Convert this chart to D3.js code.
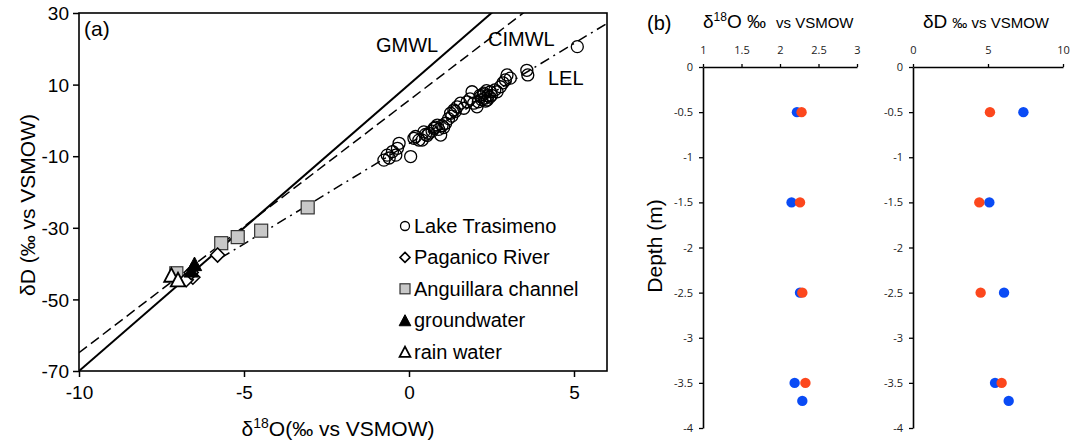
<!DOCTYPE html>
<html>
<head>
<meta charset="utf-8">
<script src="https://cdn.jsdelivr.net/npm/d3@7"></script>
<style>
  body { margin: 0; background: #fff; }
  svg { display: block; }
</style>
</head>
<body>
<script>
// panel (a) data
const lakeO18 = [5.1, 3.57, 3.6, 3.07, 2.97, 2.92, 2.77, 2.67, 2.47, 2.37, 2.27, 2.17, 2.06, 1.96, 1.91, 1.76, 1.66, 1.56, 1.46, 1.36, 1.26, 1.11, 0.96, 0.86, 0.76, 0.6, 0.45, 0.4, 0.3, 0.15, 0.05, -0.3, -0.35, -0.4, -0.5, -0.66, -0.76, 2.3, 2.4, 2.2, 1.0, 0.7, 1.2, 2.5, 2.6, 2.85, 1.4, 0.9, 0.2, -0.6, 2.1, 2.35, 1.85, 0.55, 2.25, 2.45, 2.32, 2.15, 1.05, 0.8, 0.5, 1.3];
const lakeD   = [20.6, 14.0, 12.7, 11.8, 12.7, 11.3, 9.4, 8.0, 8.0, 5.7, 7.6, 6.6, 3.8, 4.8, 8.0, 5.2, 3.4, 4.8, 3.8, 2.9, 2.0, -0.8, -4.1, -1.3, -2.2, -3.6, -3.2, -5.5, -5.5, -5.0, -10.1, -6.4, -7.8, -9.7, -8.7, -9.7, -11.1, 6.2, 6.9, 5.8, -1.5, -3.0, 0.5, 7.0, 8.5, 10.5, 2.5, -2.5, -4.5, -10.5, 5.2, 8.3, 6.0, -4.2, 7.2, 6.5, 5.4, 7.0, -2.0, -1.9, -3.9, 1.2];
const riverO18 = [-5.8, -6.55, -6.75, -6.6];
const riverD   = [-37.6, -43.8, -44.5, -42.5];
const channelO18 = [-3.07, -4.48, -5.19, -5.69, -7.05];
const channelD   = [-24.3, -30.8, -32.6, -34.3, -42.7];
const groundO18 = [-6.5, -6.6];
const groundD   = [-40.4, -42.2];
const rainO18 = [-7.2, -7.0];
const rainD   = [-43.5, -44.8];

const lineNames = ['GMWL', 'CIMWL', 'LEL'];
const lineSlope = [8, 7.05, 5.6];
const lineIntercept = [10, 5.6, -6.5];
const lineStart = [-10, -10, -5.7];

const legendNames = ['Lake Trasimeno', 'Paganico River', 'Anguillara channel', 'groundwater', 'rain water'];
const xTicksA = [-10, -5, 0, 5];
const yTicksA = [30, 10, -10, -30, -50, -70];

// panel (b) data
const depths = [-0.5, -1.5, -2.5, -3.5, -3.7];
const o18Blue = [2.22, 2.15, 2.26, 2.19, 2.29];
const o18Red  = [2.28, 2.26, 2.29, 2.33, null];
const dBlue = [7.36, 5.09, 6.07, 5.47, 6.38];
const dRed  = [5.13, 4.42, 4.51, 5.91, null];
const depthTicks = [0, -0.5, -1, -1.5, -2, -2.5, -3, -3.5, -4];
const o18Ticks = [1, 1.5, 2, 2.5, 3];
const dTicks = [0, 5, 10];

const W = 1070, H = 441;
const svg = d3.select('body').append('svg').attr('width', W).attr('height', H);

// ---------- panel (a) ----------
const fa = 'Liberation Sans, Arial, sans-serif';
const x = d3.scaleLinear().domain([-10, 6]).range([79, 607]);
const y = d3.scaleLinear().domain([-70, 30]).range([371, 13]);

svg.append('clipPath').attr('id', 'clipA')
  .append('rect').attr('x', 79).attr('y', 13).attr('width', 528).attr('height', 358);

const gA = svg.append('g');

const xAxis = gA.append('g').attr('transform', 'translate(0,371)')
  .call(d3.axisBottom(x).tickValues(xTicksA).tickSize(6).tickSizeOuter(0).tickFormat(d => String(d)));
const yAxis = gA.append('g').attr('transform', 'translate(79,0)')
  .call(d3.axisLeft(y).tickValues(yTicksA).tickSize(6).tickSizeOuter(0).tickFormat(d => String(d)));
[xAxis, yAxis].forEach(a => {
  a.select('.domain').remove();
  a.selectAll('line').attr('stroke', '#000').attr('stroke-width', 1.5);
  a.selectAll('text').attr('font-family', fa).attr('font-size', 19).attr('fill', '#000');
});
xAxis.selectAll('text').attr('dy', '1.0em');
yAxis.selectAll('text').attr('x', -10).attr('dy', '0.35em');

gA.append('rect').attr('x', 79).attr('y', 13).attr('width', 528).attr('height', 358)
  .attr('fill', 'none').attr('stroke', '#000').attr('stroke-width', 1.6);

const dashes = [null, '10,5', '10,5,2,5'];
const lineG = gA.append('g').attr('clip-path', 'url(#clipA)');
lineNames.forEach((n, i) => {
  const x0 = lineStart[i], x1 = 6;
  lineG.append('line')
    .attr('x1', x(x0)).attr('y1', y(lineSlope[i] * x0 + lineIntercept[i]))
    .attr('x2', x(x1)).attr('y2', y(lineSlope[i] * x1 + lineIntercept[i]))
    .attr('stroke', '#000').attr('stroke-width', i === 0 ? 2 : 1.5)
    .attr('stroke-dasharray', dashes[i]);
});

const labelPos = [[376, 52], [488, 46], [548, 85]];
lineNames.forEach((n, i) => {
  gA.append('text').attr('x', labelPos[i][0]).attr('y', labelPos[i][1])
    .attr('font-family', fa).attr('font-size', 20).text(n);
});

gA.append('text').attr('x', 84).attr('y', 36).attr('font-family', fa).attr('font-size', 21).text('(a)');

// markers
const sym = {
  circle: (g, cx, cy, s) => g.append('circle').attr('cx', cx).attr('cy', cy).attr('r', s)
    .attr('fill', 'none').attr('stroke', '#000').attr('stroke-width', 1.3),
  diamond: (g, cx, cy, s) => g.append('path')
    .attr('d', `M${cx},${cy - s}L${cx + s},${cy}L${cx},${cy + s}L${cx - s},${cy}Z`)
    .attr('fill', '#fff').attr('stroke', '#000').attr('stroke-width', 1.6),
  square: (g, cx, cy, s) => g.append('rect').attr('x', cx - s).attr('y', cy - s)
    .attr('width', 2 * s).attr('height', 2 * s)
    .attr('fill', '#c8c8c8').attr('stroke', '#333').attr('stroke-width', 1.2),
  triFill: (g, cx, cy, s) => g.append('path')
    .attr('d', `M${cx},${cy - s}L${cx + s * 0.9},${cy + s * 0.7}L${cx - s * 0.9},${cy + s * 0.7}Z`)
    .attr('fill', '#000').attr('stroke', '#000').attr('stroke-width', 1),
  triOpen: (g, cx, cy, s) => g.append('path')
    .attr('d', `M${cx},${cy - s}L${cx + s * 0.9},${cy + s * 0.7}L${cx - s * 0.9},${cy + s * 0.7}Z`)
    .attr('fill', '#fff').attr('stroke', '#000').attr('stroke-width', 1.8)
};

const pts = gA.append('g');
channelO18.forEach((v, i) => sym.square(pts, x(v), y(channelD[i]), 6.5));
riverO18.forEach((v, i) => sym.diamond(pts, x(v), y(riverD[i]), 7));
rainO18.forEach((v, i) => sym.triOpen(pts, x(v), y(rainD[i]), 8));
groundO18.forEach((v, i) => sym.triFill(pts, x(v), y(groundD[i]), 8));
lakeO18.forEach((v, i) => sym.circle(pts, x(v), y(lakeD[i]), 6));

// legend
const legSyms = [
  (g, cx, cy) => sym.circle(g, cx, cy, 4.5),
  (g, cx, cy) => sym.diamond(g, cx, cy, 5),
  (g, cx, cy) => sym.square(g, cx, cy, 5),
  (g, cx, cy) => sym.triFill(g, cx, cy + 1, 6.5),
  (g, cx, cy) => sym.triOpen(g, cx, cy + 1, 6)
];
const leg = gA.append('g');
legendNames.forEach((n, i) => {
  const cy = 226 + i * 31.4;
  legSyms[i](leg, 405, cy);
  leg.append('text').attr('x', 414).attr('y', cy).attr('dy', '0.35em')
    .attr('font-family', fa).attr('font-size', 20).text(n);
});

// axis titles
const xt = gA.append('text').attr('x', 338).attr('y', 436).attr('text-anchor', 'middle')
  .attr('font-family', fa).attr('font-size', 21);
xt.append('tspan').text('δ');
xt.append('tspan').attr('font-size', 14).attr('dy', -8).text('18');
xt.append('tspan').attr('dy', 8).text('O(‰ vs VSMOW)');

gA.append('text').attr('transform', 'translate(35,205) rotate(-90)').attr('text-anchor', 'middle')
  .attr('font-family', fa).attr('font-size', 21).text('δD (‰ vs VSMOW)');

// ---------- panel (b) ----------
const fb = 'Open Sans, Liberation Sans, sans-serif';
const yD = d3.scaleLinear().domain([-4, 0]).range([428, 67]);
const xO = d3.scaleLinear().domain([1, 3]).range([703, 857]);
const xDd = d3.scaleLinear().domain([0, 10]).range([913, 1063]);

function subPanel(xs, ticks, blue, red, x0) {
  const g = svg.append('g');
  const ax = g.append('g').attr('transform', 'translate(0,67)')
    .call(d3.axisTop(xs).tickValues(ticks).tickSize(3).tickSizeOuter(0).tickFormat(d => String(d)));
  ax.selectAll('text').attr('dy', '-0.6em');
  const ay = g.append('g').attr('transform', `translate(${x0},0)`)
    .call(d3.axisLeft(yD).tickValues(depthTicks).tickSize(4).tickSizeOuter(0).tickFormat(d => String(d)));
  ay.selectAll('text').attr('x', -10);
  [ax, ay].forEach(a => {
    a.select('.domain').attr('stroke', '#000').attr('stroke-width', 1.6);
    a.selectAll('line').attr('stroke', '#000').attr('stroke-width', 1.3);
    a.selectAll('text').attr('font-family', fb).attr('font-size', 11).attr('fill', '#222');
  });
  depths.forEach((d, i) => {
    g.append('circle').attr('cx', xs(blue[i])).attr('cy', yD(d)).attr('r', 5.2).attr('fill', '#0a4bf5');
    if (red[i] != null)
      g.append('circle').attr('cx', xs(red[i])).attr('cy', yD(d)).attr('r', 5.2).attr('fill', '#fc471d');
  });
  return g;
}
subPanel(xO, o18Ticks, o18Blue, o18Red, 703);
subPanel(xDd, dTicks, dBlue, dRed, 913);

const fh = 'Liberation Sans, Arial, sans-serif';
svg.append('text').attr('x', 647).attr('y', 30).attr('font-family', fh).attr('font-size', 20).text('(b)');

const h1 = svg.append('text').attr('x', 703).attr('y', 28).attr('font-family', fh).attr('font-size', 19);
h1.append('tspan').text('δ');
h1.append('tspan').attr('font-size', 12).attr('dy', -7).text('18');
h1.append('tspan').attr('dy', 7).text('O ‰');
h1.append('tspan').attr('font-size', 15).attr('dx', 10).text('vs VSMOW');

const h2 = svg.append('text').attr('x', 923).attr('y', 28).attr('font-family', fh).attr('font-size', 19);
h2.append('tspan').text('δD');
h2.append('tspan').attr('font-size', 15).attr('dx', 5).text('‰ vs VSMOW');

svg.append('text').attr('transform', 'translate(662,246) rotate(-90)').attr('text-anchor', 'middle')
  .attr('font-family', fh).attr('font-size', 21).text('Depth (m)');
</script>
</body>
</html>
